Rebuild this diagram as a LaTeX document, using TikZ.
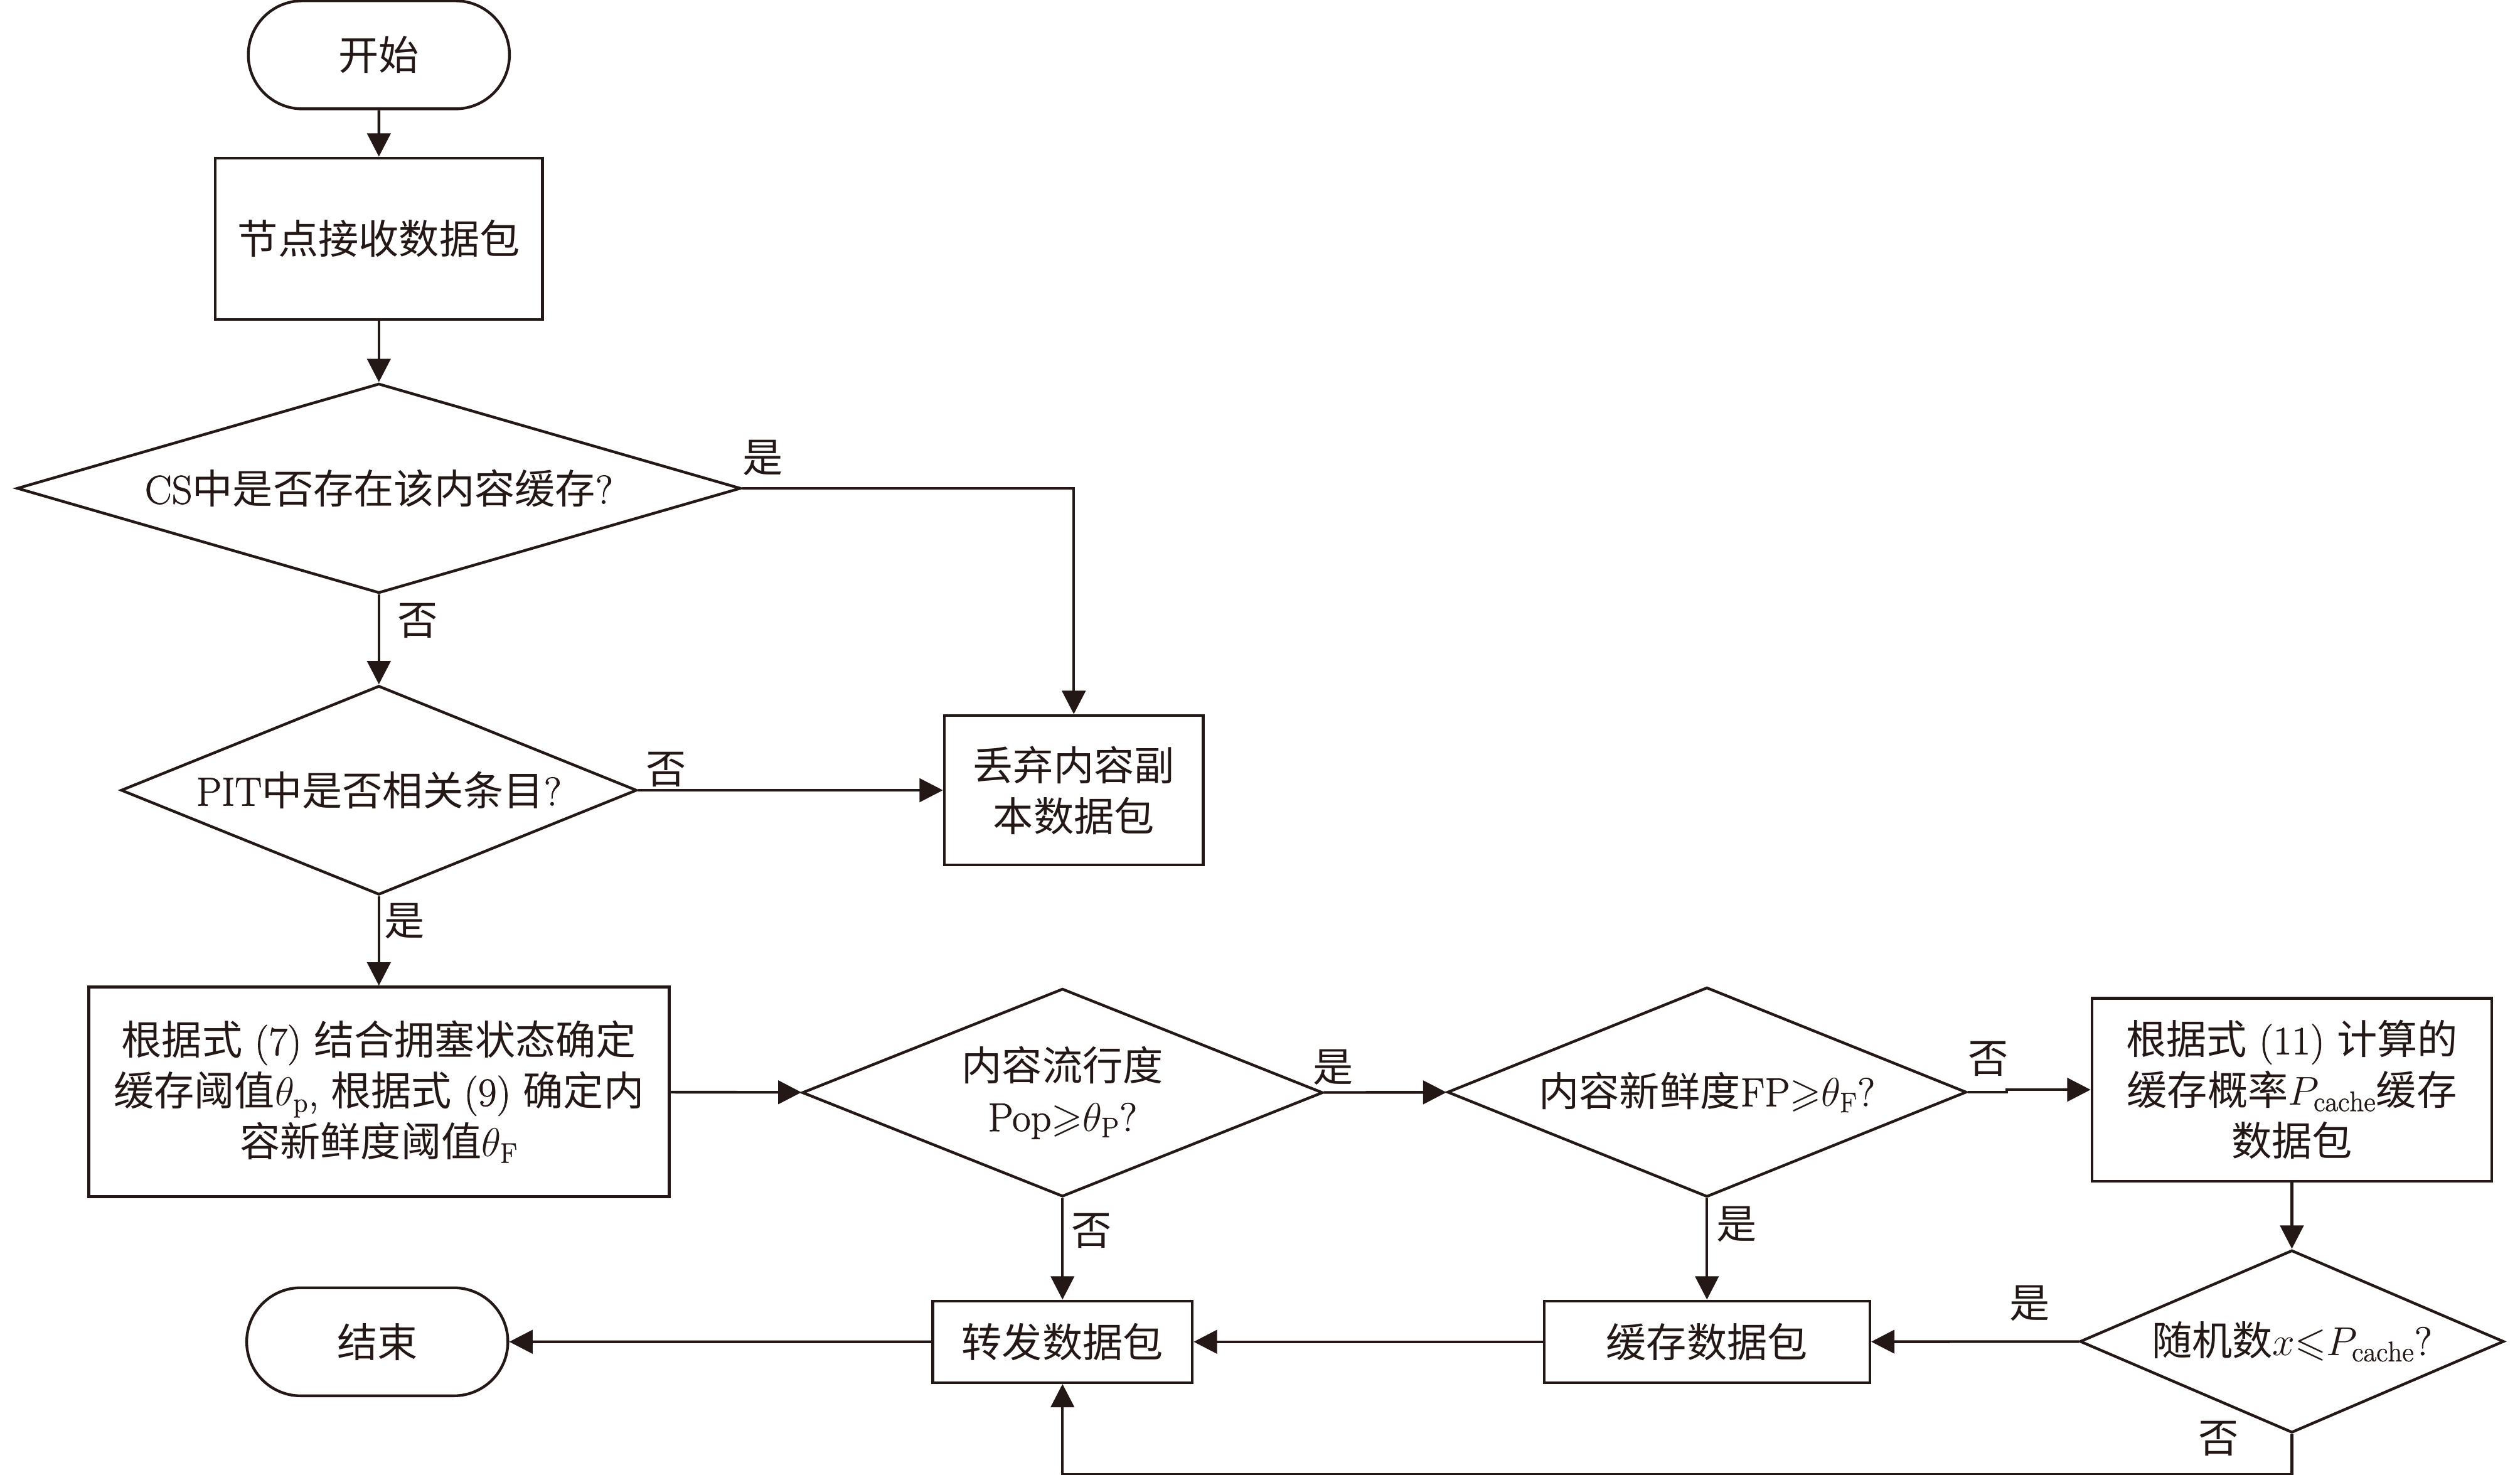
\RequirePackage{fix-cm}
\documentclass[tikz,border=0pt]{standalone}
\usepackage{amsmath,amssymb}
\usepackage{fontspec}
\setmainfont{Latin Modern Roman}[FakeBold=1.2]
\newfontfamily\cjk{Noto Sans CJK SC}
\usetikzlibrary{arrows.meta,shapes.geometric,shapes.misc}
\definecolor{ink}{RGB}{35,24,21}
\newcommand\myfs{\fontsize{25pt}{31.5pt}\selectfont}
\newcommand\zh[1]{{\cjk #1}}
\begin{document}
\begin{tikzpicture}[x=1pt,y=1pt,color=ink,
  base/.style={draw=ink, text=ink, line width=1.7pt, inner sep=0pt, align=center, font=\myfs},
  box/.style={base, rectangle},
  term/.style={base, rounded rectangle, minimum width=162pt, minimum height=67pt},
  dec/.style={base, diamond},
  lbl/.style={text=ink, inner sep=0pt, font=\myfs},
  arr/.style={draw=ink, line width=1.7pt, -{Triangle[length=14.5pt,width=14.5pt]}}]
\useasboundingbox (0,0) rectangle (1563,-914.6);
% nodes
\node[term] (start) at (235,-34) {\zh{开始}};
\node[box, minimum width=203pt, minimum height=100pt] (recv) at (235,-148) {\zh{节点接收数据包}};
\node[dec, minimum width=449pt, minimum height=130pt, aspect=3.45] (cs) at (235,-302.8) {CS\zh{中是否存在该内容缓存}?};
\node[dec, minimum width=320pt, minimum height=129.6pt, aspect=2.47] (pit) at (235,-490) {PIT\zh{中是否相关条目}?};
\node[box, minimum width=160.6pt, minimum height=92.7pt] (drop) at (666,-490) {\zh{丢弃内容副}\\\zh{本数据包}};
\node[box, minimum width=360pt, minimum height=130pt] (thr) at (235,-677) {\zh{根据式} (7) \zh{结合拥塞状态确定}\\\zh{缓存阈值}$\theta_{\mathrm{p}}$, \zh{根据式} (9) \zh{确定内}\\\zh{容新鲜度阈值}$\theta_{\mathrm{F}}$};
\node[dec, minimum width=323pt, minimum height=129pt, aspect=2.5] (pop) at (659,-677.5) {\zh{内容流行度}\\Pop${\geqslant}\theta_{\mathrm{P}}$?};
\node[dec, minimum width=322pt, minimum height=130pt, aspect=2.48] (fp) at (1058.7,-677.2) {\zh{内容新鲜度}FP${\geqslant}\theta_{\mathrm{F}}$?};
\node[box, minimum width=248pt, minimum height=113.3pt] (pc) at (1421.5,-675.7) {\zh{根据式} (11) \zh{计算的}\\\zh{缓存概率}$P_{\mathrm{cache}}$\zh{缓存}\\\zh{数据包}};
\node[dec, minimum width=263pt, minimum height=113.2pt, aspect=2.32] (rnd) at (1421.5,-831.8) {\zh{随机数}$x{\leqslant}P_{\mathrm{cache}}$?};
\node[box, minimum width=202pt, minimum height=50.6pt] (cache) at (1058.7,-832) {\zh{缓存数据包}};
\node[box, minimum width=161pt, minimum height=50.6pt] (fwd) at (659,-832) {\zh{转发数据包}};
\node[term] (end) at (234,-832) {\zh{结束}};
% labels
\node[lbl] (l1) at (473,-284) {\zh{是}};
\node[lbl] (l2) at (259,-385) {\zh{否}};
\node[lbl] (l3) at (413,-477) {\zh{否}};
\node[lbl] (l4) at (251,-571) {\zh{是}};
\node[lbl] (l5) at (827,-661.6) {\zh{是}};
\node[lbl] (l6) at (677,-763) {\zh{否}};
\node[lbl] (l7) at (1233,-656.4) {\zh{否}};
\node[lbl] (l8) at (1077,-759) {\zh{是}};
\node[lbl] (l9) at (1259,-808) {\zh{是}};
\node[lbl] (l10) at (1376,-892) {\zh{否}};
% connectors
\draw[arr] (start) -- (recv);
\draw[arr] (recv) -- (cs);
\draw[arr] (cs.east) -| (drop.north);
\draw[arr] (cs) -- (pit);
\draw[arr] (pit) -- (drop);
\draw[arr] (pit) -- (thr);
\draw[arr] (thr) -- (pop);
\draw[arr] (pop) -- (fp);
\draw[arr] (fp.east) -- ++(24,0) |- (pc.west);
\draw[arr] (pc) -- (rnd);
\draw[arr] (rnd) -- (cache);
\draw[arr] (cache) -- (fwd);
\draw[arr] (fwd) -- (end);
\draw[arr] (pop) -- (fwd);
\draw[arr] (fp) -- (cache);
\draw[arr] (rnd.south) -- ++(0,-25) -| (fwd.south);
\end{tikzpicture}
\end{document}
